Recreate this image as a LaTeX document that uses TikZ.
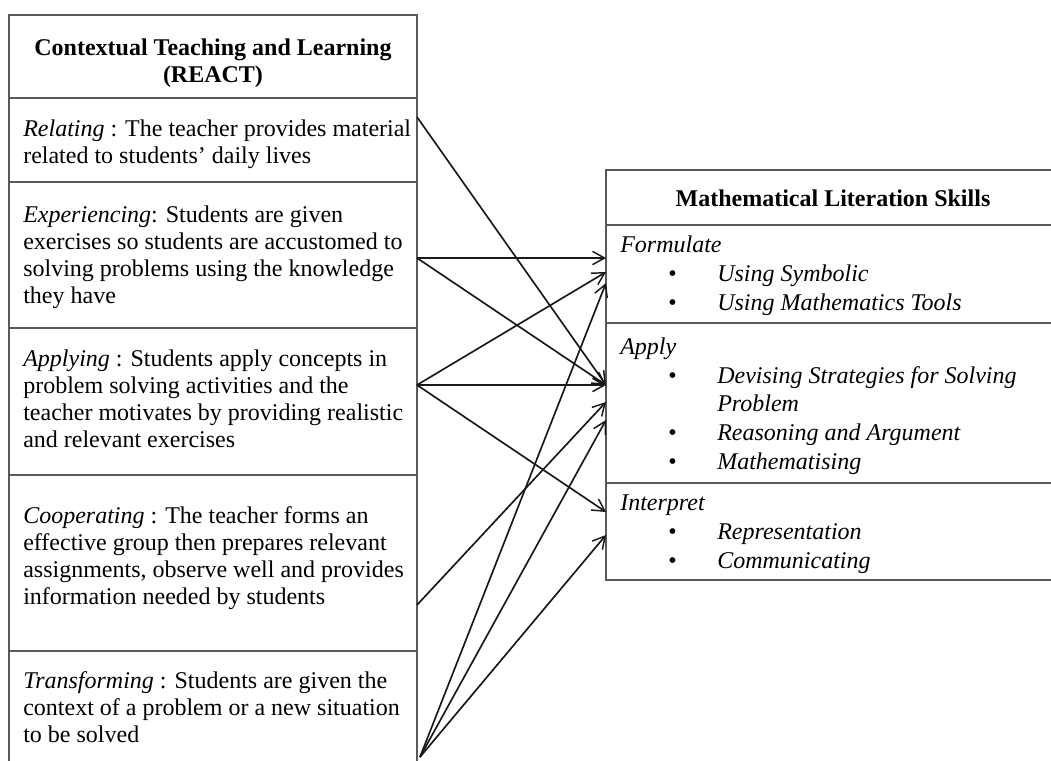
\documentclass[tikz,border=0pt]{standalone}
\usepackage{fontspec}
\setmainfont{Liberation Serif}
\usetikzlibrary{arrows.meta,fit}
\definecolor{framegray}{gray}{0.35}
\definecolor{linkblack}{gray}{0.1}
\newcommand\skillitem[1]{\hspace*{36pt}\makebox[36.75pt][l]{\textbullet}\textit{#1}}
\newcommand\skillcont[1]{\hspace*{72.75pt}\textit{#1}}
\begin{document}
\begin{tikzpicture}[x=0.75pt,y=-0.75pt,
  cell/.style={draw=framegray, line width=1.1pt, inner sep=0pt},
  % multi-line text blocks are placed by the baseline of their last line
  txt/.style={inner sep=0pt, align=left, anchor=base west,
    font=\fontsize{18pt}{20.25pt}\selectfont},
  skills/.style={txt, font=\fontsize{18pt}{21.5pt}\selectfont},
  head/.style={inner sep=0pt, align=center, anchor=base,
    font=\fontsize{18pt}{20.25pt}\selectfont\bfseries},
  link/.style={draw=linkblack, line width=1.25pt,
    -{Straight Barb[length=9pt,width=10pt,line width=1.1pt]}}]
\useasboundingbox (0,0) rectangle (1051,761);
\fill[white] (0,0) rectangle (1051,761);
\clip (0,0) rectangle (1051,761);

% left column: REACT stages
\node[cell, fit={(9,15) (417,98)}] (ctlHead) {};
\node[cell, fit={(9,98) (417,182)}] (relRow) {};
\node[cell, fit={(9,182) (417,328)}] (expRow) {};
\node[cell, fit={(9,328) (417,475)}] (appRow) {};
\node[cell, fit={(9,475) (417,651)}] (coopRow) {};
\node[cell, fit={(9,651) (417,775)}] (transRow) {};

\node[head] (ctlTitle) at (213,82) {Contextual Teaching and Learning\\(REACT)};
\node[txt] (relText) at (23,163) {\textit{Relating} : The teacher provides material\\related to students’ daily lives};
\node[txt] (expText) at (23,303) {\textit{Experiencing}: Students are given\\exercises so students are accustomed to\\solving problems using the knowledge\\they have};
\node[txt] (appText) at (23,447) {\textit{Applying} : Students apply concepts in\\problem solving activities and the\\teacher motivates by providing realistic\\and relevant exercises};
\node[txt] (coopText) at (23,604) {\textit{Cooperating} : The teacher forms an\\effective group then prepares relevant\\assignments, observe well and provides\\information needed by students};
\node[txt] (transText) at (23,742) {\textit{Transforming} : Students are given the\\context of a problem or a new situation\\to be solved};

% right column: literacy skills
\node[cell, fit={(606,170) (1062,225)}] (mlsHead) {};
\node[cell, fit={(606,225) (1062,323)}] (formRow) {};
\node[cell, fit={(606,323) (1062,483)}] (applyRow) {};
\node[cell, fit={(606,483) (1062,580)}] (interpRow) {};

\node[head] (mlsTitle) at (833,206) {Mathematical Literation Skills};
\node[skills] (formText) at (620,310) {\textit{Formulate}\\\skillitem{Using Symbolic}\\\skillitem{Using Mathematics Tools}};
\node[skills] (applyText) at (620,469) {\textit{Apply}\\\skillitem{Devising Strategies for Solving}\\\skillcont{Problem}\\\skillitem{Reasoning and Argument}\\\skillitem{Mathematising}};
\node[skills] (interpText) at (620,568) {\textit{Interpret}\\\skillitem{Representation}\\\skillitem{Communicating}};

% connector ports
\coordinate (relOut) at (417,117);
\coordinate (expOut) at (417,258);
\coordinate (appOut) at (417,385);
\coordinate (coopOut) at (417,605);
\coordinate (transOut) at (420,757);
\coordinate (formInA) at (606,258);
\coordinate (formInB) at (606,272);
\coordinate (formInC) at (606,283);
\coordinate (applyInA) at (606,385);
\coordinate (applyInB) at (606,402);
\coordinate (applyInC) at (606,420);
\coordinate (interpInA) at (606,512);
\coordinate (interpInB) at (606,535);

% links
\draw[link] (relOut) -- (applyInA);
\draw[link] (expOut) -- (formInA);
\draw[link] (expOut) -- (applyInA);
\draw[link] (appOut) -- (formInB);
\draw[link] (appOut) -- (applyInA);
\draw[link] (appOut) -- (interpInA);
\draw[link] (coopOut) -- (applyInB);
\draw[link] (transOut) -- (formInC);
\draw[link] (transOut) -- (applyInC);
\draw[link] (transOut) -- (interpInB);
\end{tikzpicture}
\end{document}
